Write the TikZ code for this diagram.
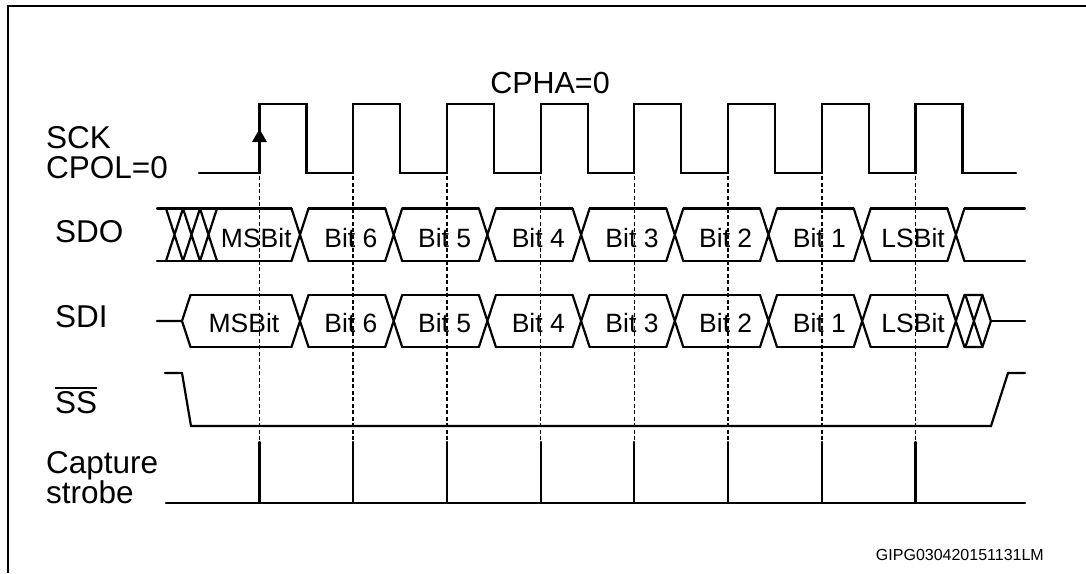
\documentclass[tikz,border=0pt]{standalone}
\usepackage{fontspec}
\setmainfont{Liberation Sans}
\begin{document}
\begin{tikzpicture}[x=1pt,y=-1pt,
  wave/.style={line width=2.2pt, line cap=round, line join=miter},
  guide/.style={line width=1.6pt, dash pattern=on 4pt off 2.5pt},
  lbl/.style={font=\fontsize{31.5}{36}\selectfont, inner sep=0pt, anchor=base west},
  bitlbl/.style={font=\fontsize{26.5}{32}\selectfont, inner sep=0pt, anchor=base},
]
\useasboundingbox (0,0) rectangle (1086,573);
% frame
\draw[line width=2.8pt] (8,573) -- (8,6) -- (1086,6);
% SCK
\draw[wave] (199,173) \foreach \k in {0,...,7}{ -- ({259.5+93.7*\k},173) -- ({259.5+93.7*\k},104) -- ({306.5+93.7*\k},104) -- ({306.5+93.7*\k},173)} -- (1016,173);
\fill (259.5,129) -- (267,142) -- (252,142) -- cycle;
% SDO
\foreach \c in {174.5,191.5,208.5,300,393.7,487.4,581.1,674.8,768.5,862.2,955.9}{
  \draw[wave] ({\c-8.5},208.5) -- ({\c+8.5},261) ({\c-8.5},261) -- ({\c+8.5},208.5);}
\foreach \y in {208.5,261}{
  \draw[wave] (157,\y) -- (217,\y);
  \draw[wave] (217,\y) -- (291.5,\y);
  \foreach \k in {0,...,6}{\draw[wave] ({308.5+93.7*\k},\y) -- ({385.2+93.7*\k},\y);}
  \draw[wave] (964.4,\y) -- (1025,\y);
}
% SDI
\draw[wave] (157,321) -- (182,321) -- (190.5,295) (182,321) -- (190.5,347);
\foreach \c in {300,393.7,487.4,581.1,674.8,768.5,862.2,955.9,973.9}{
  \draw[wave] ({\c-8.5},295) -- ({\c+8.5},347) ({\c-8.5},347) -- ({\c+8.5},295);}
\foreach \y in {295,347}{
  \draw[wave] (190.5,\y) -- (291.5,\y);
  \foreach \k in {0,...,6}{\draw[wave] ({308.5+93.7*\k},\y) -- ({385.2+93.7*\k},\y);}
  \draw[wave] (964.4,\y) -- (982.4,\y) -- (990.9,321);
}
\draw[wave] (990.9,321) -- (1025,321);
% SS
\draw[wave] (165,373) -- (182,373) -- (191,426) -- (991,426) -- (1008,373) -- (1025,373);
% guides and capture strobe
\foreach \k in {0,...,7}{
  \draw[guide] ({259.5+93.7*\k},176) -- ({259.5+93.7*\k},442);
  \draw[wave] ({259.5+93.7*\k},442) -- ({259.5+93.7*\k},503);}
\draw[wave] (166,503) -- (1025,503);
% labels
\node[lbl] (sck) at (46,148) {SCK};
\node[lbl] (cpol) at (46,178) {CPOL=0};
\node[lbl] (sdo) at (55,242) {SDO};
\node[lbl] (sdi) at (55,327) {SDI};
\node[lbl] (ss) at (55,413) {SS};
\draw[line width=2pt] ([yshift=3pt]ss.north west) -- ([yshift=3pt]ss.north east);
\node[lbl] (cap) at (46,473) {Capture};
\node[lbl] (strobe) at (46,503) {strobe};
\node[lbl, anchor=base, font=\fontsize{30.5}{36}\selectfont] (cpha) at (550,93) {CPHA=0};
\node[font=\fontsize{16}{19}\selectfont, inner sep=0pt, anchor=base east] (id) at (1044,560) {GIPG030420151131LM};
% bit labels
\node[bitlbl] (sdoms) at (256.3,247) {MSBit};
\node[bitlbl] (sdims) at (244,332) {MSBit};
\foreach \t [count=\j from 0] in {Bit 6,Bit 5,Bit 4,Bit 3,Bit 2,Bit 1,LSBit}{
  \node[bitlbl] (sdob\j) at ({350.9+93.7*\j},247) {\t};
  \node[bitlbl] (sdib\j) at ({350.9+93.7*\j},332) {\t};
}
\end{tikzpicture}
\end{document}
